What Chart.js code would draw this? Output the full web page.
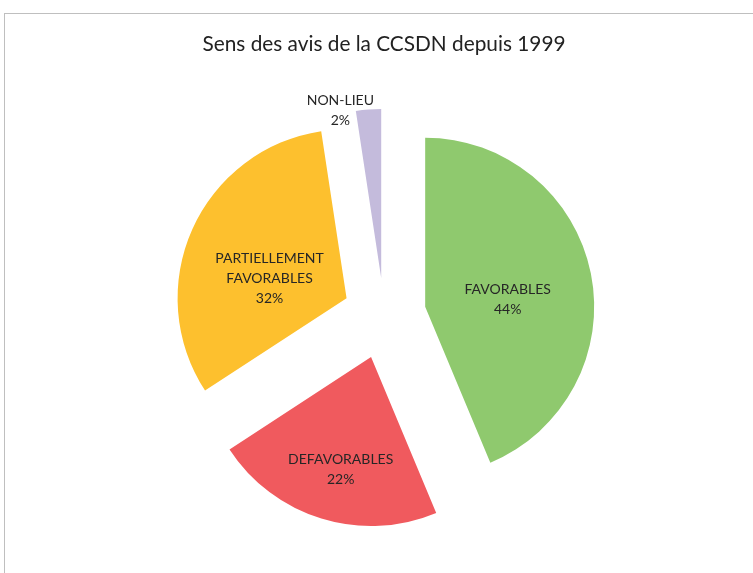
<!DOCTYPE html>
<html>
<head>
<meta charset="utf-8">
<script src="https://cdn.jsdelivr.net/npm/chart.js@4"></script>
<style>
    body { margin: 0; background: #fff; overflow: hidden; }
    #frame { position: absolute; left: 4px; top: 13px; width: 800px; height: 600px; border: 1px solid #bfbfbf; }
    #wrap { position: absolute; left: 0; top: 0; width: 753px; height: 573px; }
</style>
</head>
<body>
<div id="frame"></div>
<div id="wrap"><canvas id="chart"></canvas></div>
<script>
// Sens des avis de la CCSDN depuis 1999
const categories = ['FAVORABLES', 'DEFAVORABLES', 'PARTIELLEMENT FAVORABLES', 'NON-LIEU'];
const labelLines = [['FAVORABLES'], ['DEFAVORABLES'], ['PARTIELLEMENT', 'FAVORABLES'], ['NON-LIEU']];
// shares (labels show them rounded)
const shares = [43.7, 22.1, 31.8, 2.4];

const sliceColors = ['#8fc96e', '#f05a5e', '#fdc02e', '#c4bbdc'];
// how far each slice is pulled out (px), and where its label sits
const explode = [42, 44, 41, 37];
const labelDist = [0.49, 0.69, 0.47, 1.02];
const labelTurn = [6.6, -2, -10, -9.4];

const explodePlugin = {
    id: 'explode',
    afterDatasetUpdate(chart, args) {
        const meta = chart.getDatasetMeta(args.index);
        meta.data.forEach((arc, i) => {
            const a = (arc.startAngle + arc.endAngle) / 2;
            arc.x += Math.cos(a) * explode[i];
            arc.y += Math.sin(a) * explode[i];
        });
    }
};

const labelPlugin = {
    id: 'sliceLabels',
    afterDatasetsDraw(chart) {
        const ctx = chart.ctx;
        const meta = chart.getDatasetMeta(0);
        ctx.save();
        ctx.font = '14px Lato';
        ctx.fillStyle = '#262626';
        ctx.textAlign = 'center';
        ctx.textBaseline = 'middle';
        meta.data.forEach((arc, i) => {
            const a = (arc.startAngle + arc.endAngle) / 2 + labelTurn[i] * Math.PI / 180;
            const d = arc.outerRadius * labelDist[i];
            const x = arc.x + Math.cos(a) * d;
            const y = arc.y + Math.sin(a) * d;
            const lines = labelLines[i].concat([Math.round(shares[i]) + '%']);
            const top = y - (lines.length - 1) * 10;
            lines.forEach((t, k) => ctx.fillText(t, x, top + k * 20));
        });
        ctx.restore();
    }
};

new Chart(document.getElementById('chart'), {
    type: 'pie',
    data: {
        labels: categories,
        datasets: [{
            data: shares,
            backgroundColor: sliceColors,
            borderWidth: 0,
            radius: 169
        }]
    },
    options: {
        responsive: true,
        maintainAspectRatio: false,
        animation: false,
        layout: { padding: { top: 32, left: 15, right: 0, bottom: 0 } },
        plugins: {
            legend: { display: false },
            tooltip: { enabled: false },
            title: {
                display: true,
                text: 'Sens des avis de la CCSDN depuis 1999',
                color: '#222',
                font: { family: 'Lato', size: 20.8, weight: 'normal' },
                padding: { top: 0, bottom: 0 }
            }
        }
    },
    plugins: [explodePlugin, labelPlugin]
});
</script>
</body>
</html>
